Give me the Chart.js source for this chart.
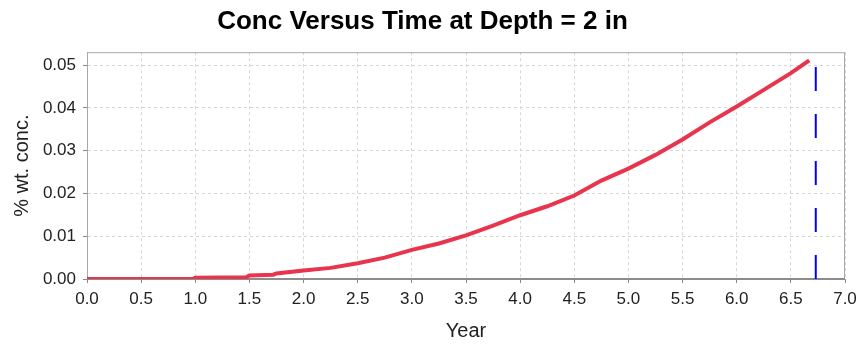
<!DOCTYPE html>
<html>
<head>
<meta charset="utf-8">
<script src="https://cdn.jsdelivr.net/npm/chart.js@4/dist/chart.umd.min.js"></script>
<style>
  html, body { margin: 0; padding: 0; background: #ffffff; }
  #wrap { width: 860px; height: 347px; }
</style>
</head>
<body>
<div id="wrap"><canvas id="c" width="860" height="347"></canvas></div>
<script>
// Concentration at 2 in depth over time
const years = [0, 0.5, 0.98, 1.0, 1.47, 1.5, 1.72, 1.75, 2.0, 2.25, 2.5, 2.75, 3.0, 3.25, 3.5, 3.75, 4.0, 4.25, 4.5, 4.75, 5.0, 5.25, 5.5, 5.75, 6.0, 6.25, 6.5, 6.67];
const conc  = [0, 0, 0, 0.0003, 0.0004, 0.0008, 0.0010, 0.0013, 0.0020, 0.0026, 0.0037, 0.0050, 0.0068, 0.0083, 0.0102, 0.0125, 0.0149, 0.0170, 0.0195, 0.0230, 0.0258, 0.0290, 0.0326, 0.0366, 0.0403, 0.0442, 0.0481, 0.0511];

// Vertical marker at the end of the simulated period
const markerYear = 6.73;
const markerSpan = [0, 0.053];

// Axis ranges and tick values
const xRange = [0, 7];
const yRange = [0, 0.053];
const yTicks = [0, 0.01, 0.02, 0.03, 0.04, 0.05];

const FONT = "'Liberation Sans', Arial, sans-serif";

// Frame around the plotting area, drawn beneath the data lines
const frame = {
  id: 'frame',
  beforeDatasetsDraw(chart) {
    const a = chart.chartArea, ctx = chart.ctx;
    ctx.save();
    ctx.strokeStyle = '#a8a8a8';
    ctx.lineWidth = 1;
    ctx.setLineDash([]);
    ctx.strokeRect(a.left + 0.5, a.top + 0.5, a.right - a.left - 1, a.bottom - a.top);
    ctx.strokeStyle = '#8c8c8c';
    ctx.lineWidth = 2;
    ctx.beginPath();
    ctx.moveTo(a.left, a.bottom);
    ctx.lineTo(a.right, a.bottom);
    ctx.stroke();
    ctx.restore();
  }
};

new Chart(document.getElementById('c'), {
  type: 'line',
  data: {
    datasets: [
      {
        data: years.map((t, i) => ({ x: t, y: conc[i] })),
        borderColor: '#e8344c',
        borderWidth: 4,
        pointRadius: 0,
        tension: 0,
        fill: false
      },
      {
        data: markerSpan.map(v => ({ x: markerYear, y: v })),
        borderColor: '#0000ff',
        borderWidth: 2,
        borderDash: [24, 23],
        pointRadius: 0,
        fill: false
      }
    ]
  },
  options: {
    responsive: false,
    animation: false,
    devicePixelRatio: 1,
    layout: { padding: { left: 0, right: 15, top: 0, bottom: 0 } },
    plugins: {
      legend: { display: false },
      tooltip: { enabled: false },
      title: {
        display: true,
        text: 'Conc Versus Time at Depth = 2 in',
        color: '#000000',
        font: { family: FONT, size: 26, weight: 'bold' },
        padding: { top: 6, bottom: 15 }
      }
    },
    scales: {
      x: {
        type: 'linear',
        min: xRange[0],
        max: xRange[1],
        afterFit(s) { s.height = 68; s.paddingRight = 0; s.paddingLeft = 0; },
        ticks: {
          stepSize: 0.5,
          color: '#222222',
          font: { family: FONT, size: 17 },
          padding: 6,
          maxRotation: 0,
          autoSkip: false,
          callback: v => v.toFixed(1)
        },
        grid: {
          color: '#d6d6d6',
          tickLength: 4,
          tickColor: '#888888',
          tickBorderDash: []
        },
        border: { display: true, color: '#a0a0a0', width: 1, dash: [3, 3] },
        title: {
          display: true,
          text: 'Year',
          color: '#222222',
          font: { family: FONT, size: 20 },
          padding: { top: 4, bottom: 4 }
        }
      },
      y: {
        type: 'linear',
        min: yRange[0],
        max: yRange[1],
        afterFit(s) { s.width = 87; },
        afterBuildTicks(s) {
          s.ticks = yTicks.map(v => ({ value: v }));
        },
        ticks: {
          color: '#222222',
          font: { family: FONT, size: 17 },
          padding: 7,
          callback: v => Number(v).toFixed(2)
        },
        grid: {
          color: '#d6d6d6',
          tickLength: 4,
          tickColor: '#888888',
          tickBorderDash: []
        },
        border: { display: true, color: '#a0a0a0', width: 1, dash: [3, 3] },
        title: {
          display: true,
          text: '% wt. conc.',
          color: '#222222',
          font: { family: FONT, size: 20 },
          padding: { top: 10, bottom: 10 }
        }
      }
    }
  },
  plugins: [frame]
});
</script>
</body>
</html>
